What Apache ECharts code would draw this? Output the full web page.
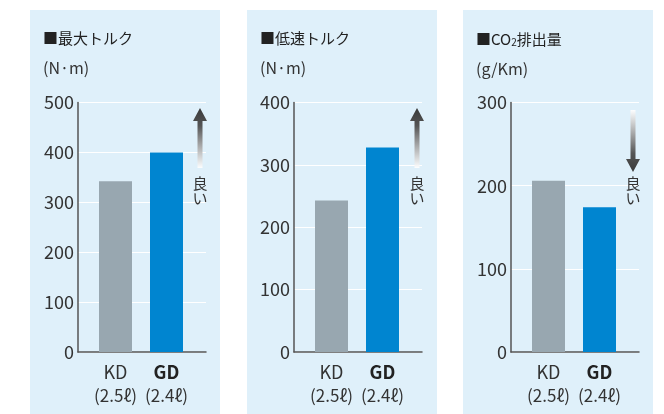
<!DOCTYPE html>
<html>
<head>
<meta charset="utf-8">
<script src="https://cdn.jsdelivr.net/npm/echarts@6/dist/echarts.min.js"></script>
<style>
  html, body { margin: 0; padding: 0; background: #ffffff; }
  #chart { width: 664px; height: 414px; }
</style>
</head>
<body>
<div id="chart"></div>
<script>
// Engines compared
var categories = ['KD', 'GD'];
var displacements = ['(2.5ℓ)', '(2.4ℓ)'];
var emphasisIndex = 1; // GD is set in bold

// Values per panel
var maxTorque = [342, 400];   // N·m
var lowTorque = [243, 328];   // N·m
var co2 = [206, 174];         // g/Km

// Value-axis ticks per panel
var maxTorqueTicks = [0, 100, 200, 300, 400, 500];
var lowTorqueTicks = [0, 100, 200, 300, 400];
var co2Ticks = [0, 100, 200, 300];

var panels = [
  { title: '■最大トルク', unit: '(N·m)', values: maxTorque, ticks: maxTorqueTicks, bg: 30, axisX: 78, better: 'up' },
  { title: '■低速トルク', unit: '(N·m)', values: lowTorque, ticks: lowTorqueTicks, bg: 247, axisX: 294, better: 'up' },
  { title: '■CO{sub|2}排出量', unit: '(g/Km)', values: co2, ticks: co2Ticks, bg: 463, axisX: 511, better: 'down' }
];

var FONT = "'Noto Sans CJK JP', 'Noto Sans', sans-serif";
var TEXT = '#333333';
var AXIS = '#555555';
var KD_COLOR = '#98a7b0';
var GD_COLOR = '#0085d0';
var PANEL_BG = '#dff0fa';

var GRID_TOP = 102.5;
var GRID_BOTTOM = 62;

var option = {
  animation: false,
  backgroundColor: '#ffffff',
  title: [], grid: [], xAxis: [], yAxis: [], series: [], graphic: []
};

panels.forEach(function (p, i) {
  var tMin = p.ticks[0];
  var tMax = p.ticks[p.ticks.length - 1];
  var tInt = p.ticks[1] - p.ticks[0];

  // panel background
  option.graphic.push({
    type: 'rect', z: -10, silent: true,
    shape: { x: p.bg, y: 10, width: 190, height: 414 },
    style: { fill: PANEL_BG }
  });

  option.title.push({
    text: p.title,
    subtext: p.unit,
    left: p.bg + 8,
    top: 26,
    itemGap: 14,
    textStyle: {
      fontFamily: FONT, fontSize: 15, fontWeight: 'normal', color: '#222',
      rich: {
        sub: { fontFamily: FONT, fontSize: 10, color: '#222', verticalAlign: 'bottom', padding: [6, 0, 0, 0] }
      }
    },
    subtextStyle: { fontFamily: FONT, fontSize: 16, color: TEXT }
  });

  // frame grid: value axis, gridlines and baseline
  option.grid.push({ left: p.axisX, width: 128, top: GRID_TOP, bottom: GRID_BOTTOM });
  // bar grid: category placement of the two bars
  option.grid.push({ left: p.axisX + 12, width: 102, top: GRID_TOP, bottom: GRID_BOTTOM });

  var gFrame = i * 2, gBars = i * 2 + 1;

  option.xAxis.push({
    type: 'category', gridIndex: gFrame, data: categories,
    axisLine: { show: true, lineStyle: { color: AXIS, width: 1.5 } },
    axisTick: { show: false }, axisLabel: { show: false }, splitLine: { show: false }
  });
  option.xAxis.push({
    type: 'category', gridIndex: gBars, data: categories,
    axisLine: { show: false }, axisTick: { show: false },
    axisLabel: {
      margin: 8,
      interval: 0,
      hideOverlap: false,
      formatter: function (val, idx) {
        var style = idx === emphasisIndex ? 'b' : 'n';
        return '{' + style + '|' + val + '}\n{s|' + displacements[idx] + '}';
      },
      rich: {
        n: { fontFamily: FONT, fontSize: 18, color: TEXT, lineHeight: 24 },
        b: { fontFamily: FONT, fontSize: 18, fontWeight: 'bold', color: '#222', lineHeight: 24 },
        s: { fontFamily: FONT, fontSize: 17, color: TEXT, lineHeight: 24 }
      }
    }
  });

  option.yAxis.push({
    type: 'value', gridIndex: gFrame, min: tMin, max: tMax, interval: tInt,
    axisLine: { show: true, lineStyle: { color: AXIS, width: 1.5 } },
    axisTick: { show: false },
    axisLabel: { margin: 4, fontFamily: FONT, fontSize: 18, color: TEXT },
    splitLine: { show: true, lineStyle: { color: '#ffffff', width: 1 } }
  });
  option.yAxis.push({
    type: 'value', gridIndex: gBars, min: tMin, max: tMax, interval: tInt, show: false
  });

  option.series.push({
    type: 'bar', xAxisIndex: i * 2 + 1, yAxisIndex: i * 2 + 1,
    barWidth: 33,
    data: p.values.map(function (v, k) {
      return { value: v, itemStyle: { color: k === emphasisIndex ? GD_COLOR : KD_COLOR } };
    })
  });

  // "better" direction arrow with fading shaft
  var cx = p.bg + 170;
  var arrowPts, grad;
  if (p.better === 'up') {
    arrowPts = [[cx, 108], [cx + 7, 121], [cx + 2.5, 121], [cx + 2.5, 168], [cx - 2.5, 168], [cx - 2.5, 121], [cx - 7, 121]];
    grad = { type: 'linear', x: 0, y: 0, x2: 0, y2: 1, colorStops: [
      { offset: 0, color: '#3a3a3a' }, { offset: 0.3, color: '#555555' }, { offset: 1, color: 'rgba(255,255,255,0.9)' }] };
  } else {
    arrowPts = [[cx, 172], [cx + 7, 159], [cx + 2.5, 159], [cx + 2.5, 110], [cx - 2.5, 110], [cx - 2.5, 159], [cx - 7, 159]];
    grad = { type: 'linear', x: 0, y: 1, x2: 0, y2: 0, colorStops: [
      { offset: 0, color: '#3a3a3a' }, { offset: 0.3, color: '#555555' }, { offset: 1, color: 'rgba(255,255,255,0.9)' }] };
  }
  option.graphic.push({
    type: 'polygon', silent: true, z: 5,
    shape: { points: arrowPts },
    style: { fill: grad }
  });
  option.graphic.push({
    type: 'text', silent: true, z: 5,
    x: cx, y: 176,
    style: { text: '良\nい', fontFamily: FONT, fontSize: 15, lineHeight: 15, fill: TEXT, align: 'center', verticalAlign: 'top' }
  });
});

var chart = echarts.init(document.getElementById('chart'), null, { renderer: 'canvas' });
chart.setOption(option);
</script>
</body>
</html>
